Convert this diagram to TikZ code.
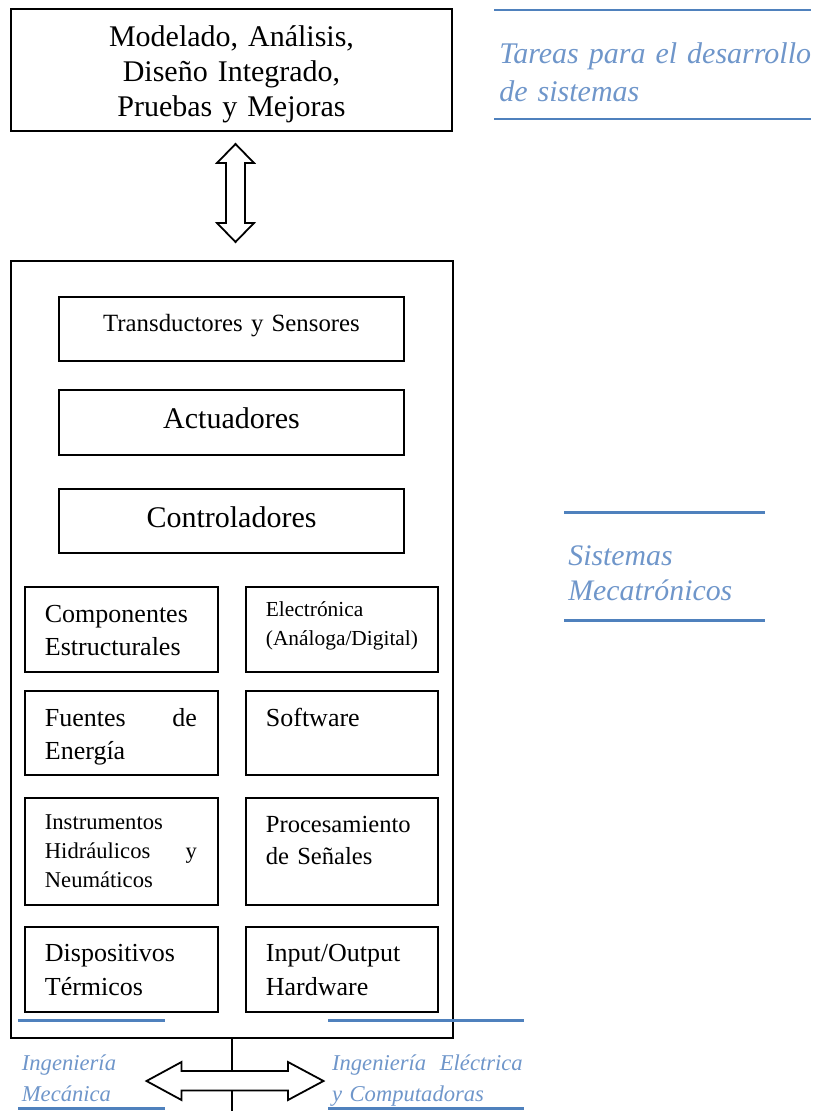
\documentclass[tikz,border=0pt]{standalone}
\usepackage{fontspec}
\setmainfont{Liberation Serif}
\usetikzlibrary{fit}
\definecolor{lineblue}{HTML}{4F81BD}
\definecolor{labelblue}{HTML}{6F96CA}
\begin{document}
\begin{tikzpicture}[x=0.5pt,y=-0.5pt,
  box/.style={draw, line width=1pt, inner sep=0pt},
  blueline/.style={draw=lineblue, line width=1.4pt},
  blockarrow/.style={draw, fill=white, line width=0.9pt, line join=miter},
  ctext/.style={inner sep=0pt, anchor=base, align=center, text width=220pt},
  ltext/.style={inner sep=0pt, anchor=base west, align=left, text width=76pt},
  rtext/.style={inner sep=0pt, anchor=base west, align=left, text width=90pt},
  bluetext/.style={inner sep=0pt, anchor=base west, align=left, text=labelblue}]
\useasboundingbox (0,0) rectangle (820,1111);

% top box
\node[box, fit={(11,9)(452,131)}] (top) {};
\node[ctext, font=\fontsize{15}{17.5}\selectfont] (toptxt) at (231.5,47)
  {Modelado, Análisis,\\Diseño Integrado,\\Pruebas y Mejoras};

% top-right label
\draw[blueline] (494,10) -- (811,10);
\draw[blueline] (494,119) -- (811,119);
\node[bluetext, text width=160pt, font=\itshape\fontsize{15}{18.9}\selectfont] (tareas) at (499,63.3)
  {Tareas para el desarrollo\\de sistemas};

% vertical double block arrow
\draw[blockarrow] (235.5,144) -- (254,163) -- (245,163) -- (245,223) -- (254,223)
  -- (235.5,242) -- (217,223) -- (226,223) -- (226,163) -- (217,163) -- cycle;

% big box
\node[box, fit={(11,261)(453,1038)}] (mech) {};

% centred boxes
\node[box, fit={(59,297)(404,361)}] (ts) {};
\node[ctext, font=\fontsize{12.4}{15}\selectfont] (tstxt) at (231.5,331.5) {Transductores y Sensores};
\node[box, fit={(59,390)(404,455)}] (act) {};
\node[ctext, font=\fontsize{15}{17.5}\selectfont] (acttxt) at (231.5,429) {Actuadores};
\node[box, fit={(59,489)(404,553)}] (ctl) {};
\node[ctext, font=\fontsize{15}{17.5}\selectfont] (ctltxt) at (231.5,527.5) {Controladores};

% row 1
\node[box, fit={(25,586.5)(218,671.5)}] (comp) {};
\node[ltext, font=\fontsize{13}{16.8}\selectfont] (comptxt) at (44.5,622.3) {Componentes\\Estructurales};
\node[box, fit={(246,586.5)(437.5,671.5)}] (elec) {};
\node[rtext, font=\fontsize{10.7}{14.7}\selectfont] (electxt) at (265.5,616) {Electrónica\\(Análoga/Digital)};

% row 2
\node[box, fit={(25,691)(218,774.5)}] (fuen) {};
\node[ltext, font=\fontsize{13}{16.8}\selectfont] (fuentxt) at (44.5,726) {Fuentes\hfill de\\Energía};
\node[box, fit={(246,691)(437.5,774.5)}] (soft) {};
\node[rtext, font=\fontsize{13}{16.8}\selectfont] (softtxt) at (265.5,726) {Software};

% row 3
\node[box, fit={(25,797.5)(218,905)}] (inst) {};
\node[ltext, font=\fontsize{11.3}{14.5}\selectfont] (insttxt) at (44.5,829.3) {Instrumentos\\Hidráulicos\hfill y\\Neumáticos};
\node[box, fit={(246,797.5)(437.5,905)}] (proc) {};
\node[rtext, font=\fontsize{12.3}{15.7}\selectfont] (proctxt) at (265.5,832.7) {Procesamiento\\de Señales};

% row 4
\node[box, fit={(25,926.5)(218,1011.5)}] (disp) {};
\node[ltext, font=\fontsize{13}{16.7}\selectfont] (disptxt) at (44.5,961.7) {Dispositivos\\Térmicos};
\node[box, fit={(246,926.5)(437.5,1011.5)}] (io) {};
\node[rtext, font=\fontsize{13}{16.7}\selectfont] (iotxt) at (265.5,961.7) {Input/Output\\Hardware};

% Sistemas Mecatronicos label
\draw[blueline] (564,512.3) -- (765,512.3);
\draw[blueline] (564,620.7) -- (765,620.7);
\node[bluetext, text width=100pt, font=\itshape\fontsize{14.9}{17.5}\selectfont] (sismec) at (568,565)
  {Sistemas\\Mecatrónicos};

% bottom labels
\draw[blueline] (18,1020.5) -- (165,1020.5);
\draw[blueline] (328,1020.5) -- (524,1020.5);
\draw[blueline] (18,1108.5) -- (165,1108.5);
\draw[blueline] (328,1108.5) -- (524,1108.5);
\node[bluetext, text width=80pt, font=\itshape\fontsize{11.3}{15.5}\selectfont] (imec) at (21.5,1070)
  {Ingeniería\\Mecánica};
\node[bluetext, text width=95.3pt, font=\itshape\fontsize{11.3}{15.5}\selectfont] (ielec) at (331.7,1070)
  {Ingeniería\hfill Eléctrica\\y Computadoras};

% vertical line and horizontal double block arrow
\coordinate (bot) at (mech.south |- 0,1111);
\draw[line width=1pt] (mech.south) -- (bot);
\draw[blockarrow] (146.5,1081) -- (181.5,1062) -- (181.5,1071) -- (288,1071) -- (288,1062)
  -- (323.5,1081) -- (288,1100) -- (288,1090.5) -- (181.5,1090.5) -- (181.5,1100) -- cycle;
\end{tikzpicture}
\end{document}
